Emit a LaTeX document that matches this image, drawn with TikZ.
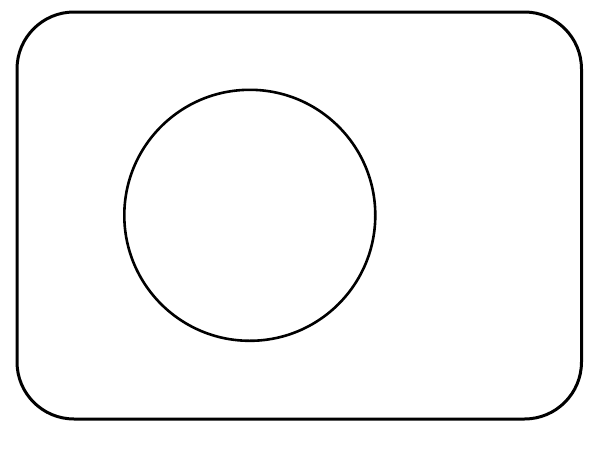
\documentclass[tikz,border=0pt]{standalone}
\begin{document}
\begin{tikzpicture}[x=1pt,y=-1pt,
  frame/.style={draw=black,line width=3pt,rounded corners=57pt},
  ring/.style={draw=black,line width=2.6pt,circle,minimum size=251pt,inner sep=0pt}]
\useasboundingbox[fill=white] (0,0) rectangle (600,466);
\draw[frame] (17,12) rectangle (581.5,419);
\node[ring] (c) at (249.8,215.3) {};
\end{tikzpicture}
\end{document}
